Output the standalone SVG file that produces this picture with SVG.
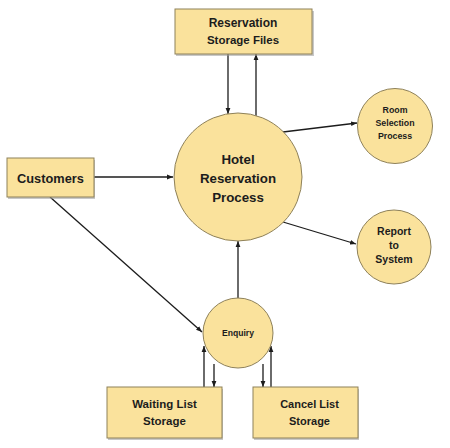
<svg xmlns="http://www.w3.org/2000/svg" width="450" height="448" viewBox="0 0 450 448">
<style>
.node{fill:#FAE29C;stroke:#8E815A;stroke-width:1}
.shadow{fill:#9a9a9a;opacity:0.55}
.t{font-family:"Liberation Sans",Arial,sans-serif;font-weight:bold;fill:#1c1c1c;text-anchor:middle}
.c{stroke:#1c1c1c;stroke-width:1.3;fill:none;marker-end:url(#ah)}
</style>
<defs>
<marker id="ah" viewBox="0 0 10 10" refX="10" refY="5" markerWidth="6" markerHeight="6" markerUnits="userSpaceOnUse" orient="auto">
<path d="M0,1 L10,5 L0,9 Z" fill="#1c1c1c"/>
</marker>
</defs>
<rect width="450" height="448" fill="#ffffff"/>
<g id="connectors">
<line class="c" x1="228" y1="54" x2="228" y2="114"/>
<line class="c" x1="256" y1="116" x2="256" y2="54"/>
<line class="c" x1="94" y1="177" x2="173" y2="177"/>
<line class="c" x1="283" y1="132" x2="357" y2="123"/>
<line class="c" x1="283" y1="222" x2="356" y2="244"/>
<line class="c" x1="238" y1="298" x2="238" y2="241"/>
<line class="c" x1="50" y1="197" x2="202" y2="332"/>
<line class="c" x1="204" y1="387" x2="204" y2="346"/>
<line class="c" x1="214" y1="364" x2="214" y2="387"/>
<line class="c" x1="263" y1="364" x2="263" y2="387"/>
<line class="c" x1="271" y1="387" x2="271" y2="346"/>
</g>
<g id="reservation-storage-files">
<rect class="shadow" x="176" y="11" width="138" height="45"/>
<rect class="node" x="175" y="9" width="137" height="45"/>
<text class="t" x="243" y="27" font-size="12">Reservation</text>
<text class="t" x="243" y="44" font-size="11.5">Storage Files</text>
</g>
<g id="customers">
<rect class="shadow" x="8" y="160" width="87" height="39"/>
<rect class="node" x="7" y="158" width="87" height="39"/>
<text class="t" x="50.5" y="183" font-size="12.8">Customers</text>
</g>
<g id="hotel-reservation-process">
<circle class="node" cx="238" cy="177" r="64"/>
<text class="t" x="238" y="164" font-size="13.3">Hotel</text>
<text class="t" x="238" y="183" font-size="13.3">Reservation</text>
<text class="t" x="238" y="202" font-size="13.3">Process</text>
</g>
<g id="room-selection-process">
<circle class="node" cx="395" cy="126" r="37.5"/>
<text class="t" x="395" y="113" font-size="8.8">Room</text>
<text class="t" x="395" y="126" font-size="8.8">Selection</text>
<text class="t" x="395" y="139" font-size="8.8">Process</text>
</g>
<g id="report-to-system">
<circle class="node" cx="394" cy="247" r="37"/>
<text class="t" x="394" y="235" font-size="10.5">Report</text>
<text class="t" x="394" y="249" font-size="10.5">to</text>
<text class="t" x="394" y="263" font-size="10.5">System</text>
</g>
<g id="enquiry">
<circle class="node" cx="238" cy="333" r="35"/>
<text class="t" x="238" y="336" font-size="8.6">Enquiry</text>
</g>
<g id="waiting-list-storage">
<rect class="shadow" x="108" y="389" width="115" height="51"/>
<rect class="node" x="107" y="387" width="115" height="51"/>
<text class="t" x="164.5" y="408" font-size="11.5">Waiting List</text>
<text class="t" x="164.5" y="425" font-size="11.5">Storage</text>
</g>
<g id="cancel-list-storage">
<rect class="shadow" x="254" y="389" width="105" height="51"/>
<rect class="node" x="253" y="387" width="105" height="51"/>
<text class="t" x="309.5" y="408" font-size="11">Cancel List</text>
<text class="t" x="309.5" y="425" font-size="11">Storage</text>
</g>
</svg>
